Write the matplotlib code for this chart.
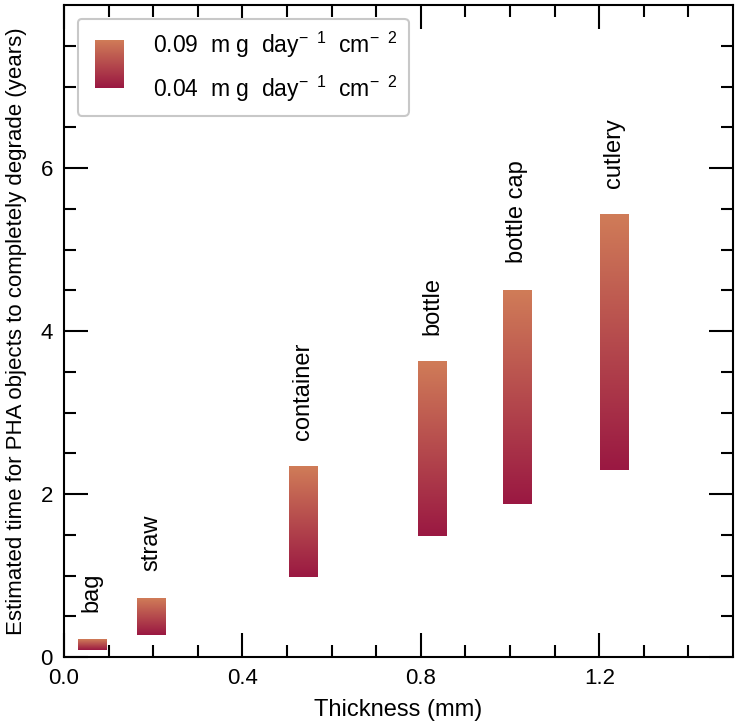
import numpy as np
import matplotlib
matplotlib.use('Agg')
import matplotlib.pyplot as plt
from matplotlib.colors import LinearSegmentedColormap
from matplotlib.patches import Patch

plt.rcParams['font.family'] = ['Liberation Sans', 'DejaVu Sans']
plt.rcParams['mathtext.fontset'] = 'custom'
plt.rcParams['mathtext.rm'] = 'Liberation Sans'

# objects, thickness (mm) and degradation time range (years)
objects = ['bag', 'straw', 'container', 'bottle', 'bottle cap', 'cutlery']
thickness = [0.0625, 0.196, 0.535, 0.825, 1.015, 1.233]
t_slow = [0.22, 0.72, 2.33, 3.62, 4.50, 5.43]   # 0.04 mg day-1 cm-2
t_fast = [0.09, 0.27, 0.98, 1.48, 1.88, 2.29]   # 0.09 mg day-1 cm-2
bar_w = 0.063

cmap = LinearSegmentedColormap.from_list('pha', ['#9A1842', '#B54A4D', '#D07C58'])
grad = np.linspace(0, 1, 256).reshape(-1, 1)

fig = plt.figure(figsize=(7.36, 7.22), dpi=100)
ax = fig.add_axes([0.087, 0.090, 0.909, 0.903])

for name, x, lo, hi in zip(objects, thickness, t_fast, t_slow):
    ax.imshow(grad, cmap=cmap, origin='lower', aspect='auto',
              extent=[x - bar_w / 2, x + bar_w / 2, lo, hi], zorder=2)
    ax.text(x, hi + 0.33, name, rotation=90, ha='center', va='bottom', fontsize=17)

ax.set_xlim(0, 1.5)
ax.set_ylim(0, 8)
ax.set_xticks([0.0, 0.4, 0.8, 1.2])
ax.set_xticks(np.arange(0, 1.5, 0.1), minor=True)
ax.set_yticks([0, 2, 4, 6])
ax.set_yticks(np.arange(0, 8, 0.5), minor=True)
ax.tick_params(which='both', direction='in', top=True, right=True, width=1.5,
               labelsize=16, pad=8)
ax.tick_params(which='major', length=17)
ax.tick_params(which='minor', length=8.5)
for s in ax.spines.values():
    s.set_linewidth(1.5)

ax.set_xlabel('Thickness (mm)', fontsize=17, labelpad=7)
ax.set_ylabel('Estimated time for PHA objects to completely degrade (years)',
              fontsize=16, labelpad=10)

labels = [r'0.09  m g  day$^{-\;\;1}$  cm$^{-\;\;2}$', r'0.04  m g  day$^{-\;\;1}$  cm$^{-\;\;2}$']
handles = [Patch(facecolor='none', edgecolor='none') for _ in labels]
leg = ax.legend(handles, labels, loc='upper left', fontsize=16.5, handlelength=1.95,
                handletextpad=0.85, borderpad=0.5, labelspacing=0.6,
                borderaxespad=0.6, edgecolor='#c8c8c8', fancybox=True)
leg.get_frame().set_linewidth(1.5)
leg.get_frame().set_alpha(1)

# gradient swatch spanning both legend rows
ax.imshow(grad, cmap=cmap, origin='lower', aspect='auto',
          extent=[0.046, 0.088, 0.873, 0.946], transform=ax.transAxes, zorder=6)

ax.set_xlim(0, 1.5)
ax.set_ylim(0, 8)
fig.savefig('out.png', dpi=100)
